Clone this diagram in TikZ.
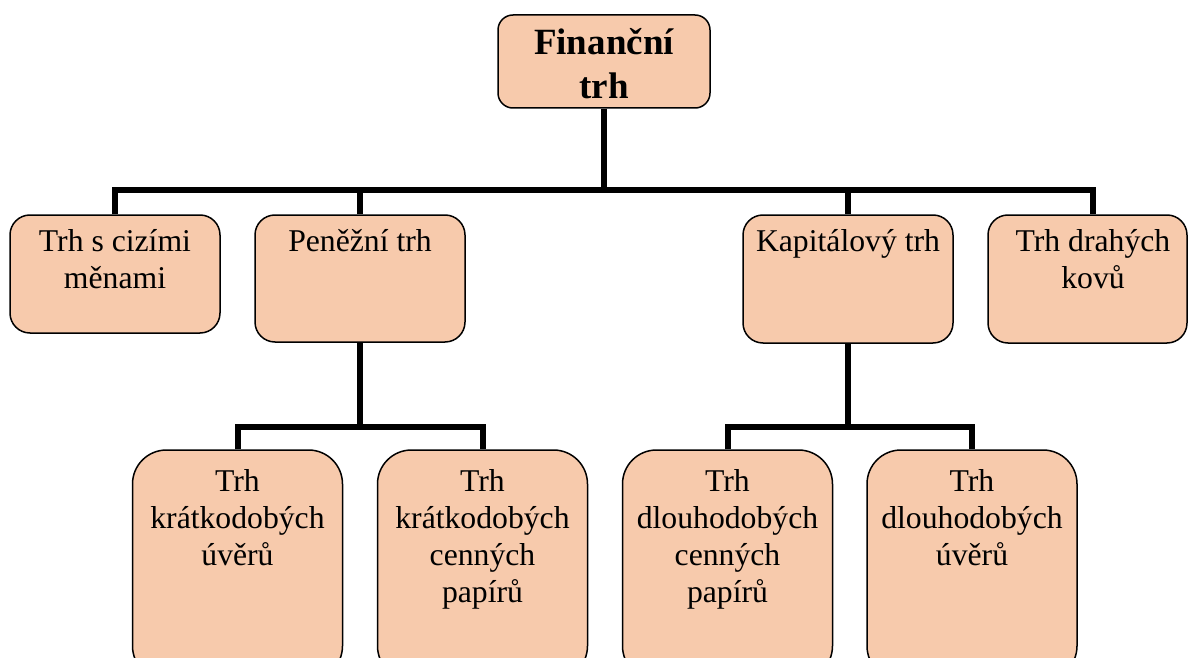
\documentclass[tikz,border=0pt]{standalone}
\usepackage{fontspec}
\setmainfont{Liberation Serif}
\usetikzlibrary{calc}
\definecolor{peach}{HTML}{F7CAAC}
\tikzset{
  box/.style={draw=black, line width=1.5pt, fill=peach, inner sep=0pt, minimum width=210pt},
  box2/.style={box, rounded corners=20pt},
  box3/.style={box, rounded corners=34pt, minimum height=230pt},
  txt/.style={anchor=north, inner sep=0pt, align=center, font=\fontsize{31.7}{37}\selectfont},
  ttl/.style={anchor=north, inner sep=0pt, align=center, font=\fontsize{37}{44}\selectfont\bfseries},
  conn/.style={line width=6pt, draw=black, line join=miter}
}
\begin{document}
\begin{tikzpicture}[x=1pt,y=1pt]
\useasboundingbox (0,0) rectangle (1189,-658);
\clip (0,0) rectangle (1189,-658);
% top
\node[box, rounded corners=15pt, minimum width=212pt, minimum height=93pt] (top) at (604,-61.5) {};
\node[ttl] (ttop) at ($(top.north)+(0,-9)$) {\strut Finanční\\\strut trh};
% level 2
\node[box2, minimum width=210pt, minimum height=118pt] (b1) at (115,-274) {};
\node[box2, minimum height=127pt] (b2) at (360,-278.5) {};
\node[box2, minimum height=128pt] (b3) at (848,-279) {};
\node[box2, minimum width=199pt, minimum height=128pt] (b4) at (1087.5,-279) {};
\node[txt] (t1) at ($(b1.north)+(0,-11)$) {\strut Trh s cizími\\\strut měnami};
\node[txt] (t2) at ($(b2.north)+(0,-11)$) {\strut Peněžní trh};
\node[txt] (t3) at ($(b3.north)+(0,-11)$) {\strut Kapitálový trh};
\node[txt] (t4) at ($(b4.north)+(5.5,-11)$) {\strut Trh drahých\\\strut kovů};
% level 3
\node[box3] (b5) at (237.5,-565) {};
\node[box3] (b6) at (482.5,-565) {};
\node[box3] (b7) at (727.5,-565) {};
\node[box3] (b8) at (972,-565) {};
\node[txt] (t5) at ($(b5.north)+(0,-16)$) {\strut Trh\\\strut krátkodobých\\\strut úvěrů};
\node[txt] (t6) at ($(b6.north)+(0,-16)$) {\strut Trh\\\strut krátkodobých\\\strut cenných\\\strut papírů};
\node[txt] (t7) at ($(b7.north)+(0,-16)$) {\strut Trh\\\strut dlouhodobých\\\strut cenných\\\strut papírů};
\node[txt] (t8) at ($(b8.north)+(0,-16)$) {\strut Trh\\\strut dlouhodobých\\\strut úvěrů};
% connectors
\coordinate (bar1) at (0,-190);
\coordinate (bar2) at (0,-427);
\coordinate (d4) at ($(b4.north)+(5.5,0)$);
\draw[conn] (b1.north) -- (b1.north |- bar1) -- (d4 |- bar1) -- (d4);
\draw[conn] (top.south) -- (top.south |- bar1);
\draw[conn] (b2.north) -- (b2.north |- bar1);
\draw[conn] (b3.north) -- (b3.north |- bar1);
\draw[conn] (b5.north) -- (b5.north |- bar2) -- (b6.north |- bar2) -- (b6.north);
\draw[conn] (b2.south) -- (b2.south |- bar2);
\draw[conn] (b7.north) -- (b7.north |- bar2) -- (b8.north |- bar2) -- (b8.north);
\draw[conn] (b3.south) -- (b3.south |- bar2);
\end{tikzpicture}
\end{document}
